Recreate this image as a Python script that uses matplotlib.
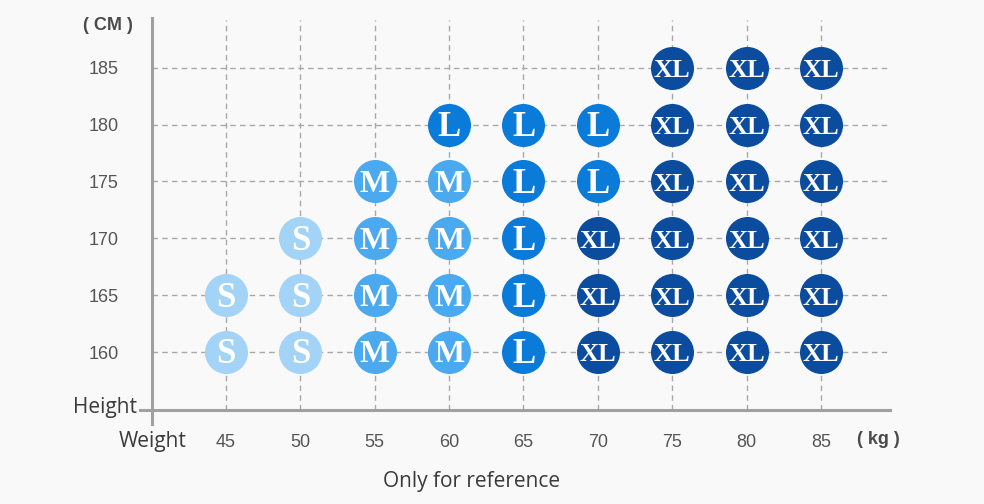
import matplotlib.pyplot as plt
from matplotlib.lines import Line2D

# weight (kg) ticks, height (cm) ticks
weights = [45, 50, 55, 60, 65, 70, 75, 80, 85]
heights = [160, 165, 170, 175, 180, 185]

# size chart: one row per height, '' = no recommendation
size_160 = ['S', 'S', 'M', 'M', 'L', 'XL', 'XL', 'XL', 'XL']
size_165 = ['S', 'S', 'M', 'M', 'L', 'XL', 'XL', 'XL', 'XL']
size_170 = ['', 'S', 'M', 'M', 'L', 'XL', 'XL', 'XL', 'XL']
size_175 = ['', '', 'M', 'M', 'L', 'L', 'XL', 'XL', 'XL']
size_180 = ['', '', '', 'L', 'L', 'L', 'XL', 'XL', 'XL']
size_185 = ['', '', '', '', '', '', 'XL', 'XL', 'XL']
rows = [size_160, size_165, size_170, size_175, size_180, size_185]

colors = {'S': '#a3d3f6', 'M': '#4aa9ef', 'L': '#0b7bd9', 'XL': '#0c4c9f'}
fsize = {'S': 25, 'M': 23, 'L': 25, 'XL': 19}

bg = '#f9f9f9'
fig = plt.figure(figsize=(9.84, 5.04), dpi=100, facecolor=bg)
W, H = 984., 504.
ax = fig.add_axes([152/W, (504-410)/H, 738/W, 390/H])
ax.set_facecolor(bg)

ax.set_xlim(40.03, 89.64)
ax.set_ylim(154.9, 189.2)

for h, row in zip(heights, rows):
    for w, s in zip(weights, row):
        if s == '':
            continue
        ax.scatter(w, h, s=960, color=colors[s], zorder=3, linewidths=0)
        ax.text(w, h - 0.25, s, ha='center', va='center', color='white',
                fontsize=fsize[s], family='Liberation Serif', fontweight='bold', zorder=4)

ax.set_xticks(weights)
ax.set_yticks(heights)
ax.tick_params(length=0, colors='#555555', labelsize=13)
ax.tick_params(axis='x', pad=17)
ax.tick_params(axis='y', pad=24)
for lab in ax.get_xticklabels() + ax.get_yticklabels():
    lab.set_family('Liberation Sans')
ax.grid(True, color='#a8a8a8', linestyle=(0, (4, 3)), linewidth=1)
ax.set_axisbelow(True)
for sp in ax.spines.values():
    sp.set_visible(False)

# axis lines that stick out past the corner
fig.add_artist(Line2D([152/W, 152/W], [(504-424)/H, (504-18)/H], color='#a0a0a0', lw=2.2))
fig.add_artist(Line2D([140/W, 890/W], [(504-410)/H, (504-410)/H], color='#a0a0a0', lw=2.2))

fig.text(108/W, 1 - 26/H, '( CM )', ha='center', va='center', fontsize=13,
         fontweight='bold', color='#4a4a4a', family='Liberation Sans')
fig.text(878/W, 1 - 440/H, '( kg )', ha='center', va='center', fontsize=13,
         fontweight='bold', color='#4a4a4a', family='Liberation Sans')
fig.text(137/W, 1 - 407/H, 'Height', ha='right', va='center', fontsize=15,
         color='#3a3a3a', family='Open Sans')
fig.text(153/W, 1 - 441/H, 'Weight', ha='center', va='center', fontsize=15,
         color='#3a3a3a', family='Open Sans')
fig.text(472/W, 1 - 481/H, 'Only for reference', ha='center', va='center', fontsize=15,
         color='#3a3a3a', family='Open Sans')

fig.savefig('out.png', dpi=100, facecolor=bg)
